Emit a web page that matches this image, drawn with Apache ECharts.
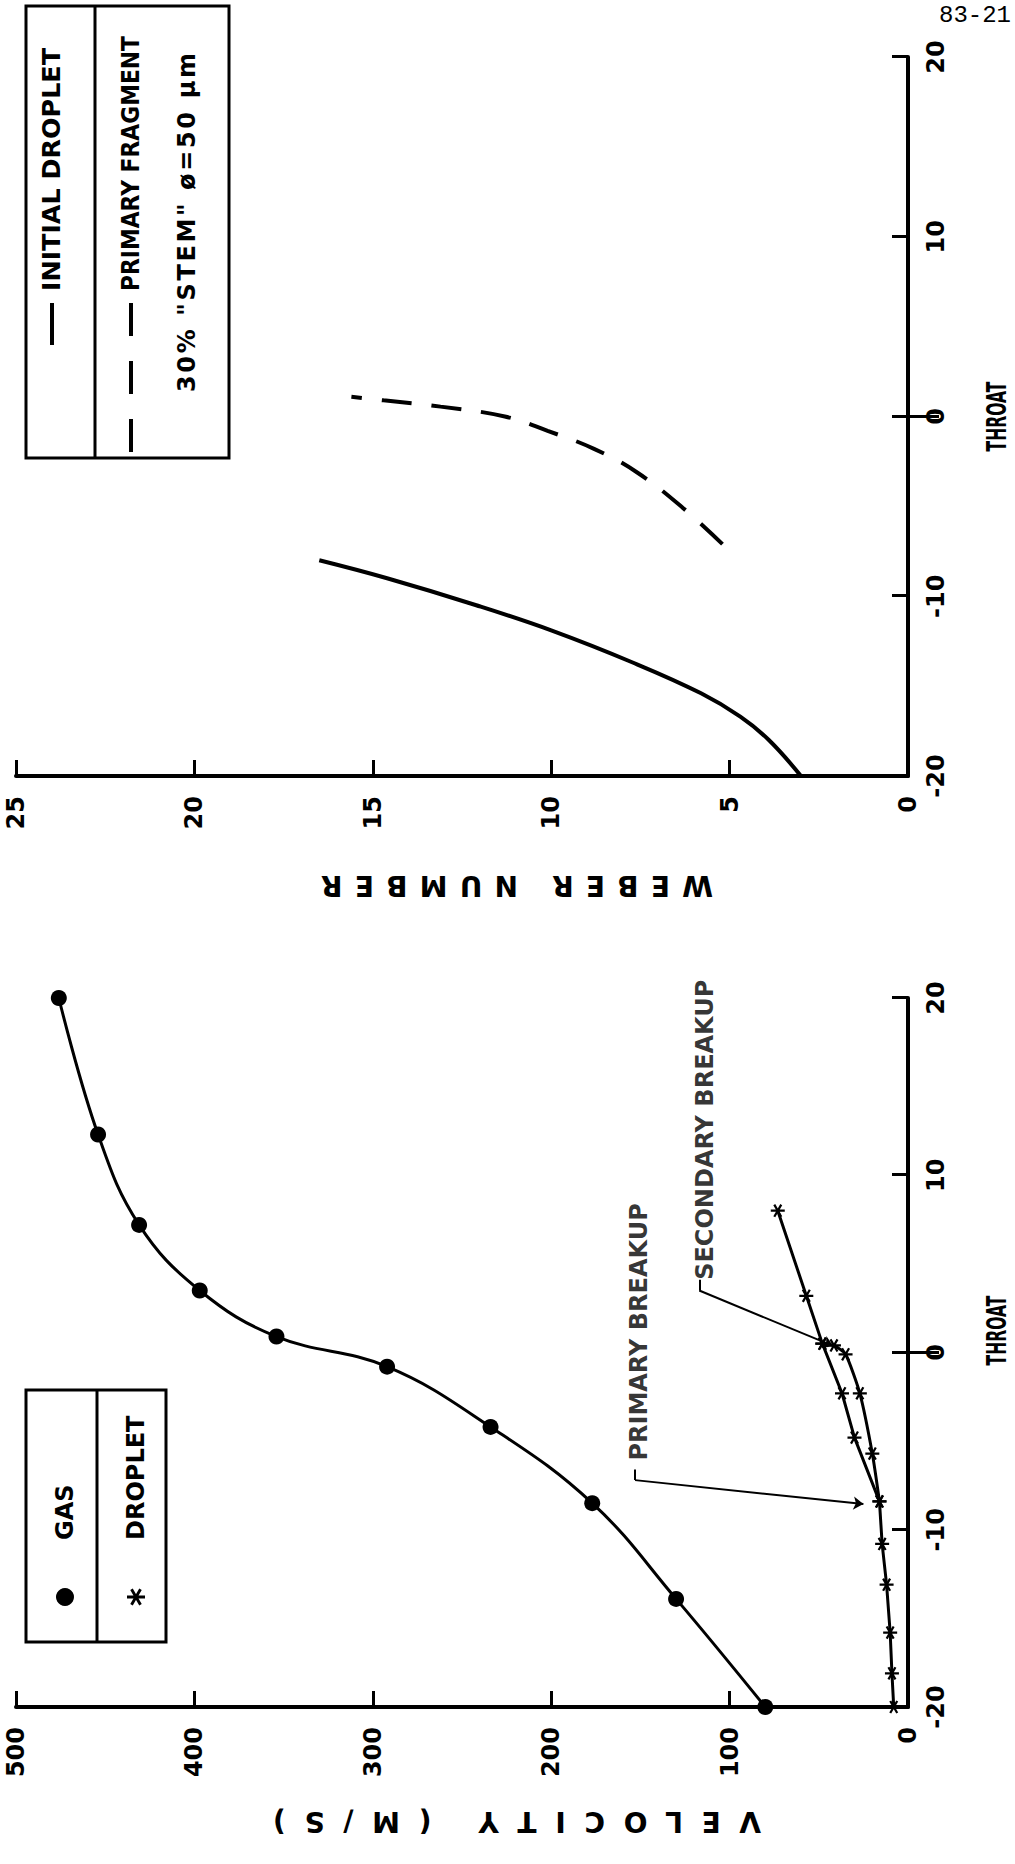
<html>
<head>
<meta charset="UTF-8">
<title>Velocity and Weber number</title>
<script src="https://cdn.jsdelivr.net/npm/echarts@6/dist/echarts.min.js"></script>
<style>
html,body{margin:0;padding:0;width:1015px;height:1864px;overflow:hidden;background:#fff;}
/* the page is drawn landscape and turned a quarter turn, like the scanned figure */
#container{position:absolute;left:0;top:0;width:1864px;height:1015px;transform-origin:0 0;transform:translate(0,1864px) rotate(-90deg);background:#fff;}
</style>
</head>
<body>
<div id="container"></div>
<script>
// left panel: velocity along the nozzle
var gasThroat = [-20, -13.9, -8.5, -4.2, -0.8, 0.9, 3.5, 7.2, 12.3, 20];
var gasVelocity = [80, 130, 177, 234, 292, 354, 397, 431, 454, 476];

var dropThroat = [-20, -18.1, -15.8, -13.1, -10.8, -8.4, -4.8, -2.3, 0.5, 3.2, 8];
var dropVelocity = [8, 9, 10, 12, 14.5, 16, 30, 37, 48, 57, 73];

var stemThroat = [-8.4, -5.7, -2.3, -0.1, 0.4, 0.5];
var stemVelocity = [16, 20, 27, 35, 41.5, 48];

var noteText = ['PRIMARY BREAKUP', 'SECONDARY BREAKUP'];
var noteAt = [[-6.1, 151], [4.1, 114]];
var noteCorner = [[-7.2, 153], [3.5, 117]];
var noteTip = [[-8.55, 25], [0.37, 42]];

// right panel: weber number
var initThroat = [-20, -18, -16.7, -15.4, -13.7, -11.9, -10.5, -9, -8];
var initWeber = [3.0, 3.9, 4.7, 5.8, 7.7, 10.0, 12.1, 14.6, 16.5];

var fragThroat = [-7.1, -5.1, -3.1, -1.8, -0.8, 0, 0.55, 0.9, 1.1];
var fragWeber = [5.2, 6.3, 7.6, 8.8, 10.1, 11.3, 13.1, 14.7, 15.6];

var throatTicks = [-20, 20, 10];
var velocityTicks = [0, 500, 100];
var weberTicks = [0, 25, 5];

function zip(a, b) {
	var out = [];
	for (var i = 0; i < a.length; i++) out.push([a[i], b[i]]);
	return out;
}

var FONT = 'DejaVu Sans';
var STAR = 'path://M42,0L58,0L58,100L42,100Z M2.7,31.9L10.7,18.1L97.3,68.1L89.3,81.9Z M89.3,18.1L97.3,31.9L10.7,81.9L2.7,68.1Z';
var DASHES = 'path://M0,0h33v4h-33z M58,0h33v4h-33z M116,0h33v4h-33z';
var lab = {fontFamily: FONT, fontWeight: 'bold', fontSize: 24, color: '#000'};

function throatAxis(g, pad) {
	return {
		gridIndex: g, type: 'value', min: throatTicks[0], max: throatTicks[1], interval: throatTicks[2],
		name: 'THROAT', nameLocation: 'middle', nameGap: 76,
		nameTextStyle: {fontFamily: FONT, fontWeight: 'bold', fontSize: 26, color: '#000', padding: [0, 0, 0, pad]},
		axisLine: {onZero: false, lineStyle: {color: '#000', width: 4}},
		axisTick: {inside: true, length: 16, lineStyle: {color: '#000', width: 3}},
		axisLabel: Object.assign({margin: 18, lineHeight: 20}, lab),
		splitLine: {show: false}
	};
}
function zeroTick(g) {
	return {
		gridIndex: g, type: 'value', min: throatTicks[0], max: throatTicks[1], interval: 20,
		axisLine: {show: false},
		axisTick: {inside: true, length: 31, customValues: [0], lineStyle: {color: '#000', width: 3}},
		axisLabel: {show: false}, splitLine: {show: false}
	};
}
function valueAxis(g, ticks, name, gap) {
	return {
		gridIndex: g, type: 'value', min: ticks[0], max: ticks[1], interval: ticks[2],
		name: name, nameLocation: 'middle', nameGap: gap,
		nameTextStyle: {fontFamily: FONT, fontWeight: 'bold', fontSize: 28, color: '#000', padding: [0, 110, 0, 0]},
		axisLine: {show: true, onZero: false, lineStyle: {color: '#000', width: 4}},
		axisTick: {show: true, inside: true, length: 16, lineStyle: {color: '#000', width: 3}},
		axisLabel: Object.assign({margin: 20, lineHeight: 20}, lab),
		splitLine: {show: false}
	};
}

var leaders = [];
for (var i = 0; i < noteText.length; i++) {
	leaders.push([{coord: noteCorner[i], symbol: 'none'}, {coord: noteTip[i], symbol: 'arrow'}]);
	leaders.push([{coord: noteCorner[i], symbol: 'none'}, {coord: [noteCorner[i][0] + 0.6, noteCorner[i][1]], symbol: 'none'}]);
}
var notes = [];
for (var i = 0; i < noteText.length; i++) notes.push({value: noteAt[i], name: noteText[i]});

var myChart = echarts.init(document.getElementById('container'), null, {renderer: 'svg'});
myChart.setOption({
	animation: false,
	backgroundColor: '#fff',
	textStyle: {fontFamily: FONT, color: '#000'},
	grid: [
		{left: 157, top: 16, width: 709, height: 895},
		{left: 1088, top: 16, width: 719, height: 895}
	],
	xAxis: [throatAxis(0, 44), throatAxis(1, 0), zeroTick(0), zeroTick(1)],
	yAxis: [
		valueAxis(0, velocityTicks, 'VELOCITY (M/S)', 100),
		valueAxis(1, weberTicks, 'WEBER NUMBER', 95)
	],
	legend: [
		{
			data: [{name: 'GAS', icon: 'circle'}, {name: 'DROPLET', icon: STAR}],
			orient: 'vertical', left: 258, top: 53, padding: 0, itemWidth: 18, itemHeight: 18, itemGap: 47,
			selectedMode: false, textStyle: Object.assign({lineHeight: 18, padding: [0, 0, 0, 43]}, lab)
		},
		{
			data: [{name: 'INITIAL DROPLET', icon: 'rect'}], left: 1519, top: 39, padding: 0, itemWidth: 42, itemHeight: 4,
			selectedMode: false, textStyle: Object.assign({lineHeight: 26, padding: [0, 0, 0, 7]}, lab)
		},
		{
			data: [{name: 'PRIMARY FRAGMENT', icon: DASHES}], left: 1412, top: 118, padding: 0, itemWidth: 149, itemHeight: 4,
			selectedMode: false, textStyle: Object.assign({lineHeight: 26, padding: [0, 0, 0, 7]}, lab)
		}
	],
	graphic: [
		{type: 'rect', shape: {x: 222, y: 26, width: 252, height: 140}, style: {fill: 'none', stroke: '#000', lineWidth: 3}},
		{type: 'line', shape: {x1: 222, y1: 97, x2: 474, y2: 97}, style: {stroke: '#000', lineWidth: 3}},
		{type: 'rect', shape: {x: 1406, y: 26, width: 452, height: 203}, style: {fill: 'none', stroke: '#000', lineWidth: 3}},
		{type: 'line', shape: {x1: 1406, y1: 95, x2: 1858, y2: 95}, style: {stroke: '#000', lineWidth: 3}},
		{type: 'text', x: 1472, y: 187, style: {text: '30% "STEM" \u00f8=50 \u00b5m', fontFamily: FONT, fontWeight: 'bold', fontSize: 24, fill: '#000', align: 'left', verticalAlign: 'middle'}},
		{type: 'text', x: 1849, y: 975, rotation: -Math.PI / 2, style: {text: '83-21', fontFamily: 'Liberation Mono', fontSize: 24, fill: '#000', align: 'center', verticalAlign: 'middle'}}
	],
	series: [
		{
			name: 'GAS', type: 'line', xAxisIndex: 0, yAxisIndex: 0, data: zip(gasThroat, gasVelocity),
			smooth: 0.4, symbol: 'circle', symbolSize: 16,
			lineStyle: {color: '#000', width: 3}, itemStyle: {color: '#000'}
		},
		{
			name: 'DROPLET', type: 'line', xAxisIndex: 0, yAxisIndex: 0, data: zip(dropThroat, dropVelocity),
			symbol: STAR, symbolSize: 14, symbolKeepAspect: true,
			lineStyle: {color: '#000', width: 3}, itemStyle: {color: '#000'},
			markLine: {
				silent: true, label: {show: false},
				lineStyle: {color: '#000', width: 2, type: 'solid'},
				symbolSize: 10,
				data: leaders
			}
		},
		{
			name: 'DROPLET', type: 'line', xAxisIndex: 0, yAxisIndex: 0, data: zip(stemThroat, stemVelocity),
			smooth: 0.2, symbol: STAR, symbolSize: 14, symbolKeepAspect: true,
			lineStyle: {color: '#000', width: 3}, itemStyle: {color: '#000'}
		},
		{
			name: 'notes', type: 'scatter', xAxisIndex: 0, yAxisIndex: 0, data: notes,
			symbolSize: 0, silent: true,
			label: Object.assign({show: true, position: 'right', distance: 0, formatter: '{b}'}, lab)
		},
		{
			name: 'INITIAL DROPLET', type: 'line', xAxisIndex: 1, yAxisIndex: 1, data: zip(initThroat, initWeber),
			smooth: 0.4, symbol: 'none', lineStyle: {color: '#000', width: 4}, itemStyle: {color: '#000'}
		},
		{
			name: 'PRIMARY FRAGMENT', type: 'line', xAxisIndex: 1, yAxisIndex: 1, data: zip(fragThroat, fragWeber),
			smooth: 0.4, symbol: 'none', lineStyle: {color: '#000', width: 4, type: [30, 20]}, itemStyle: {color: '#000'}
		}
	]
});

// the lettering on the scan is spaced out (titles) or squeezed (THROAT)
var textFit = {
	'VELOCITY (M/S)': [488, 'spacing'],
	'WEBER NUMBER': [392, 'spacing'],
	'THROAT': [70, 'spacingAndGlyphs'],
	'INITIAL DROPLET': [243, 'spacingAndGlyphs'],
	'PRIMARY FRAGMENT': [255, 'spacingAndGlyphs'],
	'30% "STEM" \u00f8=50 \u00b5m': [339, 'spacing']
};
function fitTexts() {
	var nodes = document.querySelectorAll('#container text');
	for (var i = 0; i < nodes.length; i++) {
		var f = textFit[nodes[i].textContent.trim()];
		if (f) {
			nodes[i].setAttribute('textLength', f[0]);
			nodes[i].setAttribute('lengthAdjust', f[1]);
		}
	}
}
myChart.on('finished', fitTexts);
setTimeout(fitTexts, 50);

window.onresize = function () {
	myChart.resize();
};
</script>
</body>
</html>
